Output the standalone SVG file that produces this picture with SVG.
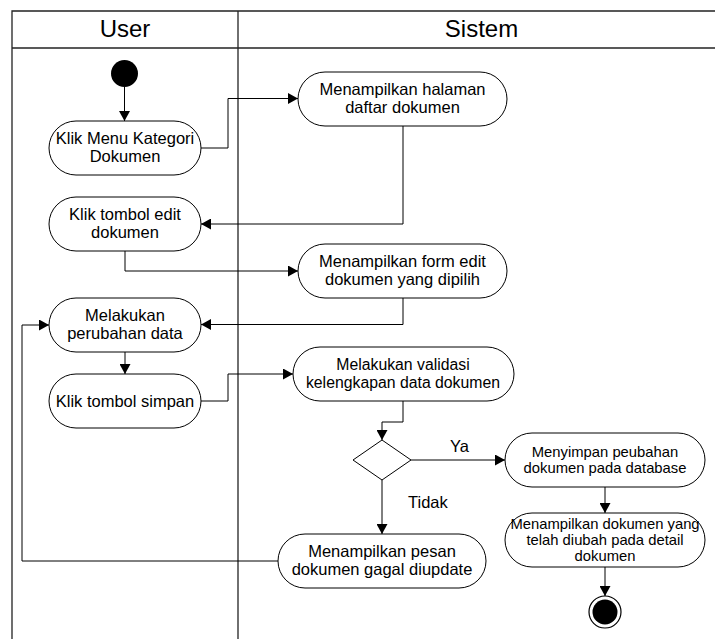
<svg xmlns="http://www.w3.org/2000/svg" width="715" height="639" viewBox="0 0 715 639">
<defs>
<marker id="arr" markerUnits="userSpaceOnUse" markerWidth="11" markerHeight="11" refX="10" refY="5.5" orient="auto">
<path d="M0,0 L10,5.5 L0,11 Z" fill="#000"/>
</marker>
<style>
.lane{fill:none;stroke:#222;stroke-width:1.3}
.hdr{font-family:"Liberation Sans",Arial,sans-serif;font-size:24px;text-anchor:middle;fill:#000}
.node rect{fill:#fff;stroke:#000;stroke-width:1}
.node text{font-family:"Liberation Sans",Arial,sans-serif;font-size:16.5px;text-anchor:middle;fill:#000}
.node text.sm{font-size:14.8px}
.conn path{fill:none;stroke:#000;stroke-width:1;marker-end:url(#arr)}
.lbl{font-family:"Liberation Sans",Arial,sans-serif;font-size:16.5px;fill:#000}
</style>
</defs>
<rect width="715" height="639" fill="#fff"/>
<g id="swimlanes">
<path class="lane" d="M12 639 V11 H715"/>
<path class="lane" d="M12 48 H715" stroke="#555"/>
<path class="lane" d="M238 11 V639"/>
<text class="hdr" x="125" y="37">User</text>
<text class="hdr" x="481.5" y="37">Sistem</text>
</g>
<g id="start"><circle cx="124.5" cy="73.5" r="13.5" fill="#000"/></g>
<g id="n1" class="node"><rect x="49" y="121" width="152" height="54" rx="27" ry="27"/><text x="125" y="143.5">Klik Menu Kategori</text><text x="125" y="162">Dokumen</text></g>
<g id="n2" class="node"><rect x="298" y="72" width="209" height="54" rx="27" ry="27"/><text x="402.5" y="94.5">Menampilkan halaman</text><text x="402.5" y="113">daftar dokumen</text></g>
<g id="n3" class="node"><rect x="49" y="197" width="152" height="54" rx="27" ry="27"/><text x="125" y="219.5">Klik tombol edit</text><text x="125" y="238">dokumen</text></g>
<g id="n4" class="node"><rect x="298" y="244" width="209" height="54" rx="27" ry="27"/><text x="402.5" y="266.5">Menampilkan form edit</text><text x="402.5" y="285">dokumen yang dipilih</text></g>
<g id="n5" class="node"><rect x="49" y="298" width="152" height="54" rx="27" ry="27"/><text x="125" y="320.5">Melakukan</text><text x="125" y="339">perubahan data</text></g>
<g id="n6" class="node"><rect x="49" y="374" width="152" height="54" rx="27" ry="27"/><text x="125" y="407">Klik tombol simpan</text></g>
<g id="n7" class="node"><rect x="293" y="347" width="221" height="54" rx="27" ry="27"/><text x="403" y="369.5" style="font-size:15.8px">Melakukan validasi</text><text x="403" y="388" style="font-size:15.8px">kelengkapan data dokumen</text></g>
<g id="decision"><polygon points="382,440 411,460 382,480 353,460" fill="#fff" stroke="#000" stroke-width="1"/></g>
<g id="n8" class="node"><rect x="505" y="433" width="200" height="54" rx="27" ry="27"/><text class="sm" x="605" y="457">Menyimpan peubahan</text><text class="sm" x="605" y="472.5">dokumen pada database</text></g>
<g id="n9" class="node"><rect x="505" y="513" width="200" height="54" rx="27" ry="27"/><text class="sm" x="605" y="528.5">Menampilkan dokumen yang</text><text class="sm" x="605" y="544.5">telah diubah pada detail</text><text class="sm" x="605" y="560.5">dokumen</text></g>
<g id="n10" class="node"><rect x="278" y="534" width="208" height="54" rx="27" ry="27"/><text x="382" y="556.5">Menampilkan pesan</text><text x="382" y="575">dokumen gagal diupdate</text></g>
<g id="end"><circle cx="605" cy="612" r="16" fill="#fff" stroke="#000" stroke-width="1.2"/><circle cx="605" cy="612" r="12.5" fill="#000"/></g>
<g id="connectors" class="conn">
<path d="M124.5 87 V121"/>
<path d="M201 148 H228 V98.5 H298"/>
<path d="M403 126 V224 H201"/>
<path d="M125 251 V271 H298"/>
<path d="M403 298 V324.5 H201"/>
<path d="M125 352 V374"/>
<path d="M201 401 H228 V374 H293"/>
<path d="M403 401 V422 H382 V440"/>
<path d="M411 460 H505"/>
<path d="M382 480 V534"/>
<path d="M605 487 V513"/>
<path d="M605 567 V596"/>
<path d="M278 561 H22 V325 H49"/>
<text class="lbl" x="450" y="451.5">Ya</text>
<text class="lbl" x="408" y="508">Tidak</text>
</g>
</svg>
